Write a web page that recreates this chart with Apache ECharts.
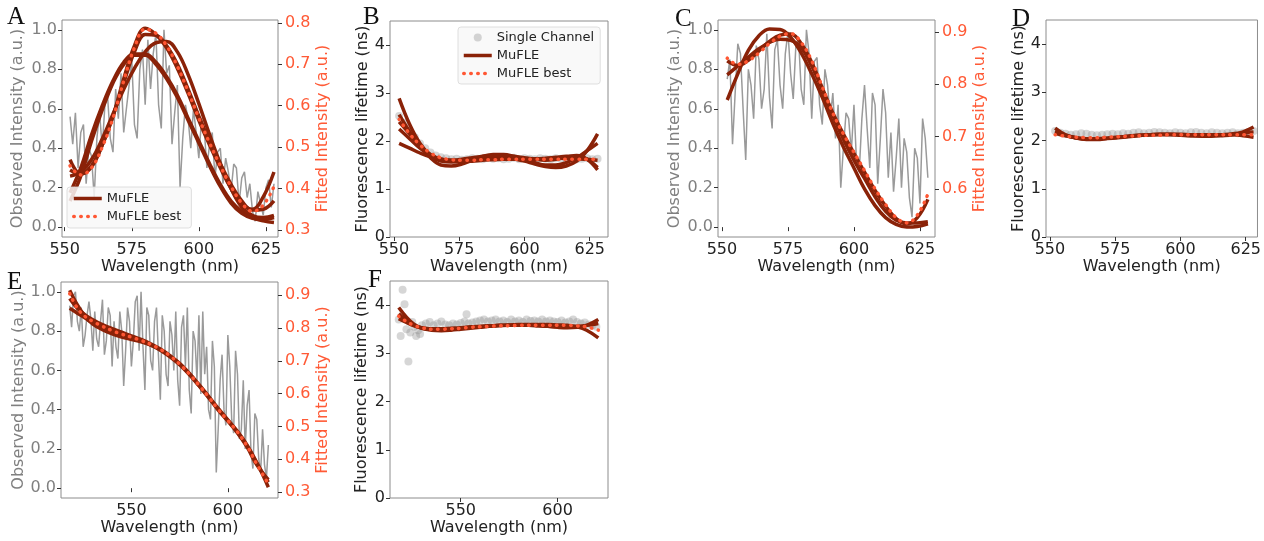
<!DOCTYPE html>
<html><head><meta charset="utf-8">
<script src="https://cdn.jsdelivr.net/npm/echarts@6/dist/echarts.min.js"></script>
<style>html,body{margin:0;padding:0;background:#fff}#c{width:1264px;height:541px}</style>
</head><body><div id="c"></div>
<script>
// ---------- DATA ----------
const wlAC = [552,553,554,555,556,557,558,559,560,561,562,563,564,565,566,567,568,569,570,571,572,573,574,575,576,577,578,579,580,581,582,583,584,585,586,587,588,589,590,591,592,593,594,595,596,597,598,599,600,601,602,603,604,605,606,607,608,609,610,611,612,613,614,615,616,617,618,619,620,621,622,623,624,625,626,627,628];
const obsA = [0.56,0.42,0.58,0.30,0.48,0.52,0.22,0.40,0.36,0.15,
0.45,0.58,0.40,0.62,0.66,0.45,0.38,0.70,0.55,0.78,
0.48,0.60,0.72,0.85,0.52,0.45,0.80,0.90,0.62,0.95,
0.70,0.88,0.98,0.62,0.50,1.00,0.78,0.82,0.42,0.58,
0.72,0.20,0.45,0.62,0.55,0.40,0.60,0.48,0.35,0.55,
0.50,0.30,0.42,0.48,0.25,0.38,0.40,0.22,0.35,0.28,
0.18,0.32,0.30,0.12,0.25,0.28,0.15,0.22,0.08,0.03,
0.18,0.12,0.06,0.20,0.24,0.10,0.22];
const obsC = [0.75,0.85,0.42,0.68,0.93,0.88,0.60,0.34,0.80,0.72,
0.55,0.92,0.85,0.60,0.70,0.98,0.66,0.50,0.90,0.95,
0.72,0.60,0.88,0.99,0.78,0.65,0.92,0.96,0.70,0.62,
1.00,0.88,0.55,0.84,0.86,0.62,0.52,0.80,0.72,0.55,
0.68,0.45,0.62,0.20,0.40,0.58,0.55,0.38,0.62,0.32,
0.28,0.55,0.72,0.50,0.30,0.68,0.62,0.22,0.45,0.70,
0.58,0.25,0.48,0.18,0.35,0.55,0.20,0.45,0.38,0.15,
0.05,0.40,0.35,0.12,0.55,0.45,0.25];
const wlE = [518,519,520,521,522,523,524,525,526,527,528,529,530,531,532,533,534,535,536,537,538,539,540,541,542,543,544,545,546,547,548,549,550,551,552,553,554,555,556,557,558,559,560,561,562,563,564,565,566,567,568,569,570,571,572,573,574,575,576,577,578,579,580,581,582,583,584,585,586,587,588,589,590,591,592,593,594,595,596,597,598,599,600,601,602,603,604,605,606,607,608,609,610,611,612,613,614,615,616,617,618,619,620,621];
const obsE = [0.93,0.82,0.98,1.00,0.85,0.80,0.92,0.72,0.78,0.88,
0.95,0.86,0.70,0.90,0.76,0.72,0.85,0.96,0.68,0.75,
0.92,0.88,0.62,0.85,0.72,0.66,0.90,0.80,0.52,0.70,
0.92,0.85,0.62,0.75,0.95,0.98,0.70,1.00,0.72,0.50,
0.92,0.88,0.65,0.60,0.85,0.92,0.68,0.45,0.88,0.80,
0.58,0.52,0.85,0.78,0.60,0.90,0.55,0.42,0.82,0.88,
0.62,0.92,0.50,0.38,0.80,0.75,0.55,0.88,0.48,0.90,
0.58,0.72,0.40,0.35,0.75,0.62,0.08,0.30,0.55,0.68,
0.40,0.32,0.78,0.62,0.35,0.28,0.70,0.58,0.25,0.30,
0.55,0.20,0.42,0.50,0.18,0.10,0.38,0.35,0.15,0.08,
0.30,0.12,0.05,0.22];

const fitX = [552,556,560,564,568,572,576,580,584,588,592,596,600,604,608,612,616,620,624,628];
const fitXEF = [518,522,526,530,535,540,545,550,555,560,565,570,575,580,585,590,595,600,605,610,615,621];

// Panel A fitted intensity (right axis)
const mufleA1 = [0.39,0.45,0.53,0.60,0.66,0.705,0.725,0.725,0.705,0.67,0.625,0.57,0.515,0.46,0.41,0.37,0.345,0.33,0.322,0.318];
const mufleA2 = [0.43,0.44,0.47,0.52,0.58,0.64,0.69,0.73,0.752,0.755,0.73,0.675,0.605,0.53,0.46,0.40,0.355,0.335,0.33,0.335];
const mufleA3 = [0.47,0.435,0.452,0.505,0.575,0.665,0.745,0.787,0.772,0.74,0.69,0.63,0.565,0.505,0.45,0.40,0.362,0.35,0.38,0.44];
const mufleA4 = [0.37,0.43,0.515,0.59,0.655,0.70,0.722,0.722,0.70,0.665,0.62,0.565,0.51,0.455,0.405,0.365,0.34,0.328,0.325,0.33];
const mufleA5 = [0.445,0.435,0.455,0.505,0.575,0.655,0.73,0.772,0.77,0.745,0.70,0.64,0.575,0.515,0.46,0.41,0.37,0.348,0.35,0.37];
const bestA = [0.455,0.433,0.45,0.50,0.57,0.66,0.74,0.785,0.775,0.745,0.695,0.635,0.57,0.51,0.455,0.405,0.365,0.345,0.36,0.405];

// Panel B lifetimes
const mufleB1 = [2.89,2.35,1.95,1.70,1.58,1.56,1.58,1.62,1.66,1.68,1.67,1.63,1.58,1.52,1.47,1.45,1.48,1.58,1.80,2.15];
const mufleB2 = [1.95,1.85,1.75,1.67,1.62,1.60,1.60,1.62,1.64,1.65,1.65,1.64,1.63,1.63,1.64,1.66,1.68,1.68,1.62,1.45];
const mufleB3 = [2.55,2.20,1.90,1.65,1.50,1.48,1.52,1.60,1.68,1.72,1.72,1.68,1.62,1.55,1.50,1.50,1.55,1.65,1.80,1.95];
const mufleB4 = [2.25,2.05,1.85,1.70,1.62,1.60,1.62,1.65,1.68,1.70,1.70,1.68,1.65,1.62,1.60,1.62,1.66,1.70,1.62,1.40];
const mufleB5 = [2.40,2.15,1.90,1.72,1.62,1.58,1.57,1.58,1.60,1.61,1.62,1.62,1.62,1.62,1.63,1.64,1.64,1.63,1.62,1.60];
const bestB = [2.45,2.15,1.92,1.75,1.65,1.61,1.60,1.60,1.61,1.61,1.62,1.62,1.62,1.62,1.62,1.62,1.62,1.62,1.62,1.62];

// Panel C fitted intensity (right axis)
const mufleC1 = [0.77,0.82,0.865,0.893,0.906,0.905,0.89,0.86,0.82,0.775,0.725,0.68,0.64,0.60,0.568,0.545,0.532,0.527,0.528,0.533];
const mufleC2 = [0.818,0.835,0.852,0.868,0.88,0.886,0.884,0.87,0.835,0.79,0.74,0.695,0.655,0.62,0.585,0.557,0.54,0.535,0.535,0.537];
const mufleC3 = [0.845,0.836,0.846,0.864,0.882,0.894,0.896,0.878,0.842,0.793,0.745,0.705,0.668,0.632,0.597,0.567,0.543,0.533,0.545,0.58];
const bestC = [0.85,0.838,0.845,0.86,0.878,0.892,0.897,0.88,0.845,0.795,0.745,0.705,0.67,0.635,0.60,0.57,0.545,0.535,0.55,0.59];

// Panel D lifetimes
const mufleD1 = [2.26,2.12,2.05,2.02,2.02,2.04,2.06,2.08,2.10,2.12,2.13,2.13,2.12,2.10,2.09,2.09,2.10,2.12,2.18,2.28];
const mufleD2 = [2.15,2.10,2.06,2.04,2.04,2.05,2.07,2.09,2.11,2.12,2.13,2.13,2.13,2.12,2.12,2.12,2.12,2.12,2.10,2.07];
const mufleD3 = [2.20,2.11,2.06,2.03,2.03,2.05,2.07,2.09,2.11,2.12,2.12,2.12,2.11,2.10,2.10,2.11,2.12,2.14,2.16,2.18];
const bestD = [2.12,2.09,2.07,2.06,2.06,2.07,2.08,2.09,2.10,2.11,2.11,2.12,2.12,2.12,2.12,2.12,2.12,2.12,2.12,2.12];

// Panel E fitted intensity (right axis)
const mufleE1 = [0.86,0.845,0.83,0.815,0.80,0.79,0.78,0.77,0.76,0.748,0.732,0.712,0.688,0.658,0.625,0.59,0.553,0.518,0.482,0.44,0.388,0.33];
const mufleE2 = [0.915,0.87,0.835,0.812,0.795,0.782,0.772,0.765,0.758,0.748,0.734,0.715,0.692,0.662,0.628,0.592,0.555,0.52,0.485,0.443,0.39,0.315];
const mufleE3 = [0.89,0.86,0.84,0.825,0.81,0.798,0.787,0.776,0.765,0.752,0.736,0.716,0.69,0.66,0.624,0.588,0.55,0.516,0.48,0.437,0.383,0.338];
const bestE = [0.905,0.86,0.835,0.82,0.805,0.792,0.781,0.772,0.762,0.75,0.735,0.715,0.69,0.66,0.626,0.59,0.552,0.518,0.483,0.44,0.385,0.325];

// Panel F lifetimes
const mufleF1 = [3.95,3.75,3.60,3.52,3.48,3.47,3.48,3.50,3.52,3.54,3.56,3.57,3.58,3.58,3.58,3.57,3.56,3.54,3.53,3.54,3.58,3.70];
const mufleF2 = [3.82,3.68,3.58,3.52,3.49,3.49,3.50,3.52,3.54,3.55,3.57,3.58,3.59,3.60,3.60,3.60,3.60,3.59,3.58,3.55,3.48,3.32];
const mufleF3 = [3.72,3.64,3.57,3.53,3.51,3.51,3.52,3.53,3.55,3.56,3.57,3.58,3.58,3.58,3.58,3.57,3.56,3.55,3.55,3.56,3.58,3.62];
const bestF = [3.77,3.66,3.58,3.53,3.50,3.50,3.51,3.52,3.54,3.55,3.56,3.57,3.57,3.58,3.58,3.58,3.58,3.58,3.58,3.57,3.55,3.48];

// Single-channel lifetimes
const singleX = [552,554,556,558,560,562,564,566,568,570,572,574,576,578,580,582,584,586,588,590,592,594,596,598,600,602,604,606,608,610,612,614,616,618,620,622,624,626,628];
const singleB = [2.52,2.38,2.22,2.08,1.95,1.85,1.76,1.70,1.66,1.64,1.62,1.63,1.61,1.62,1.64,1.63,1.62,1.65,1.63,1.64,1.62,1.63,1.65,1.62,1.64,1.63,1.62,1.64,1.63,1.62,1.64,1.63,1.62,1.64,1.62,1.63,1.64,1.62,1.63];
const singleD = [2.20,2.16,2.14,2.12,2.13,2.15,2.14,2.12,2.11,2.12,2.13,2.14,2.13,2.15,2.14,2.16,2.17,2.15,2.16,2.18,2.17,2.16,2.15,2.17,2.16,2.15,2.17,2.18,2.16,2.15,2.17,2.16,2.15,2.16,2.17,2.15,2.16,2.18,2.20];
const singleFX = [518,519,520,521,522,523,524,525,526,527,528,529,530,532,534,536,538,540,542,544,546,548,550,552,553,554,556,558,560,562,564,566,568,570,572,574,576,578,580,582,584,586,588,590,592,594,596,598,600,602,604,606,608,610,612,614,616,618,620];
const singleF = [3.70,3.36,4.32,4.02,3.50,2.83,3.43,3.65,3.55,3.36,3.48,3.40,3.58,3.62,3.65,3.58,3.62,3.66,3.60,3.58,3.62,3.60,3.63,3.66,3.81,3.62,3.64,3.66,3.68,3.70,3.66,3.68,3.70,3.66,3.68,3.65,3.70,3.66,3.68,3.65,3.70,3.67,3.68,3.66,3.70,3.66,3.68,3.66,3.65,3.68,3.64,3.66,3.70,3.65,3.62,3.64,3.60,3.58,3.55];

const ticksWL1 = [550,575,600,625];
const ticksWL2 = [550,600];
const ticksObs = [0,0.2,0.4,0.6,0.8,1.0];
const ticksFitA = [0.3,0.4,0.5,0.6,0.7,0.8];
const ticksFitC = [0.6,0.7,0.8,0.9];
const ticksFitE = [0.3,0.4,0.5,0.6,0.7,0.8,0.9];
const ticksLife = [0,1,2,3,4];
const panelLetters = ['A','B','C','D','E','F'];

// ---------- STYLE ----------
const FF = 'DejaVu Sans';
const GRAY = '#808080';
const ORANGE = '#ff5a36';
const DARK = '#222';
const MUFLE = '#8a2208';
const BEST = '#ff5733';

const grids = [
  {left:62, top:20, width:216, height:217},
  {left:390, top:21, width:218, height:216},
  {left:718, top:20, width:217, height:217},
  {left:1046, top:20, width:212, height:217},
  {left:61, top:282, width:217, height:216},
  {left:390, top:281, width:218, height:217}
].map(g => Object.assign({show:true, borderColor:'#8c8c8c', borderWidth:1, backgroundColor:'transparent', containLabel:false}, g));

function xAx(g, min, max, ticks){
  return {type:'value', gridIndex:g, min, max, name:'Wavelength (nm)', nameLocation:'middle', nameGap:21,
    nameTextStyle:{fontFamily:FF, fontSize:16, color:DARK},
    axisLine:{show:false}, splitLine:{show:false},
    axisTick:{show:true, length:4, lineStyle:{color:'#333'}, customValues:ticks},
    axisLabel:{customValues:ticks, fontFamily:FF, fontSize:16, color:DARK, margin:5}};
}
function yAx(g, min, max, ticks, name, color, pos, gap, dec){
  return {type:'value', gridIndex:g, min, max, position:pos, name, nameLocation:'middle', nameGap:gap, nameRotate:90,
    nameTextStyle:{fontFamily:FF, fontSize:16, color},
    axisLine:{show:false}, splitLine:{show:false},
    axisTick:{show:true, length:4, lineStyle:{color:'#333'}, customValues:ticks},
    axisLabel:{customValues:ticks, fontFamily:FF, fontSize:16, color, margin: pos==='right'?7:5,
      formatter: v => v.toFixed(dec)}};
}

const xAxis = [
  xAx(0, 549, 629.5, ticksWL1),
  xAx(1, 548.5, 632, ticksWL1),
  xAx(2, 548.5, 630.7, ticksWL1),
  xAx(3, 548.5, 629.5, ticksWL1),
  xAx(4, 513.5, 626, ticksWL2),
  xAx(5, 513.5, 626, ticksWL2)
];
const yAxis = [
  yAx(0, -0.05, 1.05, ticksObs, 'Observed Intensity (a.u.)', GRAY, 'left', 36, 1),   //0
  yAx(0, 0.283, 0.807, ticksFitA, 'Fitted Intensity (a.u.)', ORANGE, 'right', 36, 1), //1
  yAx(1, 0, 4.5, ticksLife, 'Fluorescence lifetime (ns)', DARK, 'left', 18, 0),       //2
  yAx(2, -0.05, 1.05, ticksObs, 'Observed Intensity (a.u.)', GRAY, 'left', 35, 1),   //3
  yAx(2, 0.508, 0.923, ticksFitC, 'Fitted Intensity (a.u.)', ORANGE, 'right', 33, 1), //4
  yAx(3, 0, 4.5, ticksLife, 'Fluorescence lifetime (ns)', DARK, 'left', 19, 0),       //5
  yAx(4, -0.05, 1.05, ticksObs, 'Observed Intensity (a.u.)', GRAY, 'left', 33, 1),   //6
  yAx(4, 0.282, 0.94, ticksFitE, 'Fitted Intensity (a.u.)', ORANGE, 'right', 36, 1),  //7
  yAx(5, 0, 4.5, ticksLife, 'Fluorescence lifetime (ns)', DARK, 'left', 20, 0)        //8
];

const pairs = (xs, ys) => xs.map((x, i) => [x, ys[i]]);
const series = [];
function obs(xi, yi, xs, ys){
  series.push({type:'line', name:'Observed', xAxisIndex:xi, yAxisIndex:yi, data:pairs(xs, ys),
    symbol:'none', z:1, lineStyle:{color:'#9a9a9a', width:1.5}, silent:true});
}
function single(xi, yi, xs, ys){
  series.push({type:'scatter', name:'Single Channel', xAxisIndex:xi, yAxisIndex:yi, data:pairs(xs, ys),
    symbolSize:8, z:1, itemStyle:{color:'rgba(140,140,140,0.45)'}});
}
function mufle(xi, yi, xs, list, best){
  list.forEach(ys => series.push({type:'line', name:'MuFLE', xAxisIndex:xi, yAxisIndex:yi, data:pairs(xs, ys),
    symbol:'none', smooth:0.4, z:2, itemStyle:{color:MUFLE}, lineStyle:{color:MUFLE, width:3.5}}));
  series.push({type:'line', name:'MuFLE best', xAxisIndex:xi, yAxisIndex:yi, data:pairs(xs, best),
    symbol:'none', smooth:0.4, z:3, itemStyle:{color:BEST}, lineStyle:{color:BEST, width:3.5, type:[0.5,6.5], cap:'round'}});
}
obs(0, 0, wlAC, obsA);
mufle(0, 1, fitX, [mufleA1, mufleA2, mufleA3, mufleA4, mufleA5], bestA);
single(1, 2, singleX, singleB);
mufle(1, 2, fitX, [mufleB1, mufleB2, mufleB3, mufleB4, mufleB5], bestB);
obs(2, 3, wlAC, obsC);
mufle(2, 4, fitX, [mufleC1, mufleC2, mufleC3], bestC);
single(3, 5, singleX, singleD);
mufle(3, 5, fitX, [mufleD1, mufleD2, mufleD3], bestD);
obs(4, 6, wlE, obsE);
mufle(4, 7, fitXEF, [mufleE1, mufleE2, mufleE3], bestE);
single(5, 8, singleFX, singleF);
mufle(5, 8, fitXEF, [mufleF1, mufleF2, mufleF3], bestF);

const hideSym = {opacity:0, color:'rgba(0,0,0,0)', borderWidth:0};
const legMufle = {name:'MuFLE', itemStyle:hideSym, lineStyle:{width:3.5}};
const legBest = {name:'MuFLE best', itemStyle:hideSym, lineStyle:{width:3.5}};
const legendBase = {orient:'vertical', itemWidth:28, itemHeight:8, itemGap:5, selectedMode:false,
  textStyle:{fontFamily:FF, fontSize:13, color:DARK},
  backgroundColor:'rgba(248,248,248,0.85)', borderColor:'rgba(215,215,215,0.8)', borderWidth:1, borderRadius:3};
const legend = [
  Object.assign({}, legendBase, {left:67, top:187, padding:[5,10,5,5], data:[legMufle, legBest]}),
  Object.assign({}, legendBase, {left:458, top:27, padding:[4,6,4,4], data:['Single Channel', legMufle, legBest]})
];

const letterPos = [[7,5],[363,5],[675,7],[1012,7],[7,270],[368,268]];
const graphic = panelLetters.map((t, i) => ({type:'text', left:letterPos[i][0], top:letterPos[i][1],
  style:{text:t, fontFamily:'Liberation Serif', fontSize:25, fill:'#111'}}));

const chart = echarts.init(document.getElementById('c'), null, {renderer:'canvas'});
chart.setOption({animation:false, backgroundColor:'#fff', grid:grids, xAxis, yAxis, series, legend, graphic});
</script></body></html>
